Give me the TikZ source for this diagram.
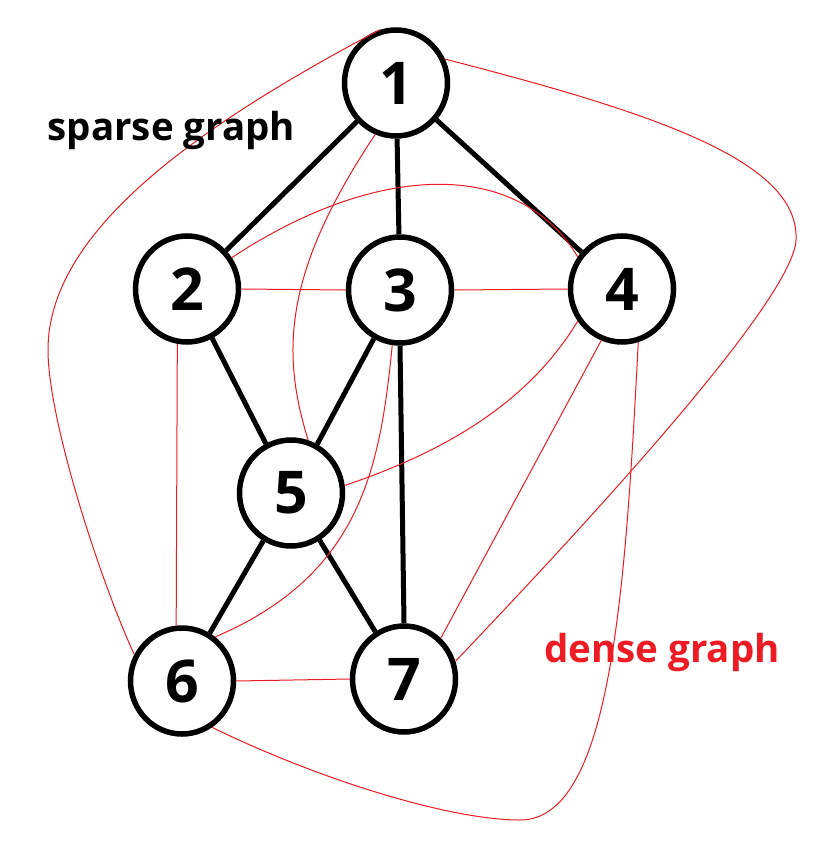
\documentclass[tikz,border=0pt]{standalone}
\usepackage{fontspec}
\setmainfont{Open Sans}
\usetikzlibrary{shapes.geometric}
\definecolor{paintred}{RGB}{237,28,36}
\begin{document}
\begin{tikzpicture}[x=1pt,y=-1pt,
  vert/.style={ellipse, draw=black, line width=5.5pt, fill=white, minimum width=103pt, minimum height=106pt, inner sep=0pt, font=\fontsize{59}{59}\selectfont\bfseries},
  sparse/.style={line width=5pt, black},
  dense/.style={line width=1pt, paintred},
  lbl/.style={font=\fontsize{38.5}{38.5}\selectfont\bfseries, inner sep=0pt, anchor=base}]
\useasboundingbox (0,0) rectangle (836,867);
\fill[white] (0,0) rectangle (836,867);
\node[vert] (n1) at (396,83) {1};
\node[vert] (n2) at (187,289) {2};
\node[vert] (n3) at (400,290) {3};
\node[vert] (n4) at (622,289) {4};
\node[vert] (n5) at (291,493) {5};
\node[vert] (n6) at (182,681) {6};
\node[vert] (n7) at (404,679) {7};
% sparse edges
\draw[sparse] (n1) -- (n2);
\draw[sparse] (n1) -- (n3);
\draw[sparse] (n1) -- (n4);
\draw[sparse] (n2) -- (n5);
\draw[sparse] (n3) -- (n5);
\draw[sparse] (n3.270) -- (n7.90);
\draw[sparse] (n5) -- (n6);
\draw[sparse] (n5) -- (n7);
% dense edges
\draw[dense] (n2.east) -- (n3.west);
\draw[dense] (n3.east) -- (n4.west);
\draw[dense] (n6.east) -- (n7.west);
\draw[dense] (n2.260) -- (n6.96);
\draw[dense] (n4.248) -- (n7.48);
\draw[dense] (n2.35) .. controls (380,160) and (520,160) .. (n4.144);
\draw[dense] (n1.248) .. controls (285,270) and (280,350) .. (n5.72);
\draw[dense] (n3.262) .. controls (380,470) and (360,575) .. (n6.53);
\draw[dense] (n4.216) .. controls (530,400) and (450,450) .. (n5.8);
\coordinate (c46) at (520,820);
\draw[dense] (n4.287) .. controls (625,600) and (610,820) .. (c46) .. controls (450,820) and (320,780) .. (n6.303);
\coordinate (c17) at (796,240);
\draw[dense] (n1.26) .. controls (650,112) and (800,160) .. (c17) .. controls (793,300) and (590,520) .. (n7.19);
\coordinate (c16) at (48,350);
\draw[dense] (n1.107) .. controls (200,125) and (48,230) .. (c16) .. controls (48,420) and (100,580) .. (n6.151);
% labels
\node[lbl] (sp) at (171.5,140) {sparse graph};
\node[lbl, text=paintred] (de) at (662,662) {dense graph};
\end{tikzpicture}
\end{document}
